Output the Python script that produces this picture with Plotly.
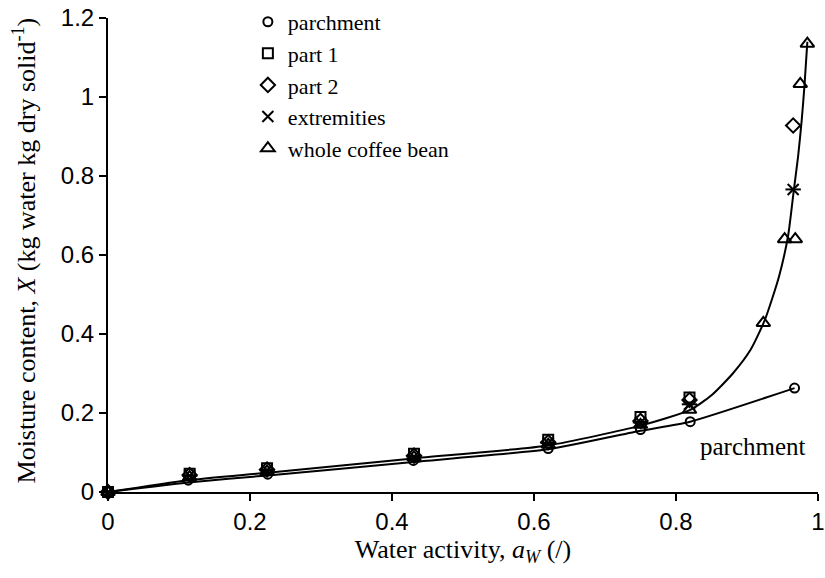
import plotly.graph_objects as go

# Measured data (water activity, moisture content)
aw_parchment = [0.0, 0.113, 0.225, 0.43, 0.62, 0.75, 0.82, 0.967]
X_parchment = [0.0, 0.030, 0.045, 0.080, 0.110, 0.158, 0.178, 0.263]

aw_part1 = [0.0, 0.115, 0.224, 0.431, 0.62, 0.75, 0.819]
X_part1 = [0.0, 0.046, 0.060, 0.097, 0.132, 0.190, 0.239]

aw_part2 = [0.0, 0.115, 0.224, 0.431, 0.62, 0.75, 0.819, 0.965]
X_part2 = [0.0, 0.043, 0.057, 0.092, 0.126, 0.180, 0.233, 0.928]

aw_extrem = [0.0, 0.115, 0.224, 0.431, 0.62, 0.75, 0.819, 0.965]
X_extrem = [0.0, 0.041, 0.055, 0.090, 0.124, 0.176, 0.222, 0.766]

aw_whole = [0.0, 0.115, 0.224, 0.431, 0.62, 0.75, 0.819, 0.923, 0.953, 0.968, 0.975, 0.985]
X_whole = [0.0, 0.038, 0.052, 0.088, 0.120, 0.170, 0.208, 0.428, 0.640, 0.640, 1.033, 1.135]

# Fitted curves
aw_fit_parch = [0.0, 0.113, 0.225, 0.43, 0.62, 0.75, 0.82, 0.967]
X_fit_parch = [0.0, 0.024, 0.042, 0.076, 0.108, 0.155, 0.178, 0.263]

aw_fit_whole = [0.0, 0.113, 0.225, 0.43, 0.62, 0.75, 0.82, 0.85, 0.88, 0.905, 0.925, 0.945, 0.958, 0.966, 0.972, 0.977, 0.981, 0.985]
X_fit_whole = [0.0, 0.030, 0.049, 0.085, 0.118, 0.168, 0.208, 0.245, 0.300, 0.360, 0.435, 0.545, 0.650, 0.765, 0.850, 0.940, 1.030, 1.140]

serif = "Liberation Serif, Times New Roman, serif"
sans = "Liberation Sans, Arial, sans-serif"
mk_line = dict(color="black", width=2)

fig = go.Figure()

fig.add_trace(go.Scatter(x=aw_fit_parch, y=X_fit_parch, mode="lines",
                         line=dict(color="black", width=2, shape="spline", smoothing=0.5),
                         showlegend=False, hoverinfo="skip"))
fig.add_trace(go.Scatter(x=aw_fit_whole, y=X_fit_whole, mode="lines",
                         line=dict(color="black", width=2, shape="spline", smoothing=0.6),
                         showlegend=False, hoverinfo="skip"))

fig.add_trace(go.Scatter(x=aw_parchment, y=X_parchment, mode="markers", name="parchment",
                         marker=dict(symbol="circle-open", size=9, color="black", line=mk_line),
                         cliponaxis=False))
fig.add_trace(go.Scatter(x=aw_part1, y=X_part1, mode="markers", name="part 1",
                         marker=dict(symbol="square-open", size=10, color="black", line=mk_line),
                         cliponaxis=False))
fig.add_trace(go.Scatter(x=aw_part2, y=X_part2, mode="markers", name="part 2",
                         marker=dict(symbol="diamond-open", size=11, color="black", line=mk_line),
                         cliponaxis=False))
fig.add_trace(go.Scatter(x=aw_extrem, y=X_extrem, mode="markers", name="extremities",
                         legendgroup="ext",
                         marker=dict(symbol="x-thin-open", size=11, color="black", line=mk_line),
                         cliponaxis=False))
fig.add_trace(go.Scatter(x=aw_extrem, y=X_extrem, mode="markers", name="extremities",
                         legendgroup="ext", showlegend=False,
                         marker=dict(symbol="line-ew-open", size=11, color="black", line=mk_line),
                         cliponaxis=False))
fig.add_trace(go.Scatter(x=aw_whole, y=X_whole, mode="markers", name="whole coffee bean",
                         marker=dict(symbol="triangle-up-open", size=12, color="black", line=mk_line),
                         cliponaxis=False))

fig.add_annotation(x=0.909, y=0.114, text="parchment", showarrow=False,
                   font=dict(family=serif, size=25, color="black"))

fig.add_annotation(xref="paper", yref="paper", x=-0.118, y=0.51, xanchor="center", yanchor="middle",
                   textangle=-90, showarrow=False,
                   text="Moisture content, <i>X</i> (kg water kg dry solid<sup>-1</sup>)",
                   font=dict(family=serif, size=26, color="black"))

fig.update_layout(
    width=825, height=578,
    margin=dict(l=108, r=7, t=18, b=86, autoexpand=False),
    plot_bgcolor="white", paper_bgcolor="white",
    legend=dict(x=0.197, xanchor="left", y=1.036, yanchor="top",
                font=dict(family=serif, size=22, color="black"),
                bgcolor="rgba(0,0,0,0)", itemwidth=30, tracegroupgap=0),
    xaxis=dict(range=[0, 1], tickvals=[0, 0.2, 0.4, 0.6, 0.8, 1],
               ticktext=["0", "0.2", "0.4", "0.6", "0.8", "1"],
               showgrid=False, zeroline=False, showline=True, linecolor="black", linewidth=2,
               ticks="outside", ticklen=7, tickwidth=2, tickcolor="black", automargin=False,
               ticklabeloverflow="allow",
               tickfont=dict(family=sans, size=24, color="black"),
               title=dict(text="Water activity, <i>a<sub>W</sub></i> (/)",
                          font=dict(family=serif, size=26, color="black"), standoff=6)),
    yaxis=dict(range=[0, 1.2], tickvals=[0, 0.2, 0.4, 0.6, 0.8, 1, 1.2],
               ticktext=["0", "0.2", "0.4", "0.6", "0.8", "1", "1.2"],
               showgrid=False, zeroline=False, showline=True, linecolor="black", linewidth=2,
               ticks="outside", ticklen=7, tickwidth=2, tickcolor="black", automargin=False,
               ticklabeloverflow="allow",
               tickfont=dict(family=sans, size=24, color="black")),
)

fig.write_html("out.html", config={"displayModeBar": False},
               post_script="document.body.style.margin='0';document.body.style.overflow='hidden';")
